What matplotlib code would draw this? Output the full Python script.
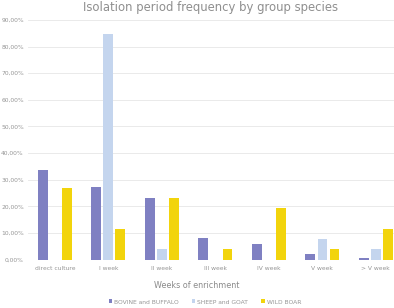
import matplotlib.pyplot as plt
import numpy as np

# categories and frequencies (fraction of isolates per species group)
weeks = ['direct culture', 'I week', 'II week', 'III week', 'IV week', 'V week', '> V week']
bovine = [0.337, 0.274, 0.232, 0.079, 0.058, 0.021, 0.005]
sheep = [0.0, 0.846, 0.038, 0.0, 0.0, 0.077, 0.038]
boar = [0.269, 0.115, 0.231, 0.038, 0.192, 0.038, 0.115]
series_names = ['BOVINE and BUFFALO', 'SHEEP and GOAT', 'WILD BOAR']
y_ticks = [0.0, 0.1, 0.2, 0.3, 0.4, 0.5, 0.6, 0.7, 0.8, 0.9]

colors = ['#7f80c2', '#c4d5ee', '#f2d40c']
txt = '#959595'

fig = plt.figure(figsize=(3.94, 3.08), dpi=100)
ax = fig.add_axes([28 / 394, 1 - 259.5 / 308, 374.6 / 394, (259.5 - 20) / 308])

x = np.arange(len(weeks))
w = 0.18
off = 0.225
for i, (vals, name) in enumerate(zip([bovine, sheep, boar], series_names)):
    ax.bar(x + (i - 1) * off, vals, width=w, color=colors[i], label=name, zorder=3)

ax.set_xlim(-0.5, 6.5)
ax.set_ylim(0, 0.9)
ax.set_yticks(y_ticks)
ax.set_yticklabels([f'{v * 100:.2f}%'.replace('.', ',') for v in y_ticks])
ax.set_xticks(x)
ax.set_xticklabels(weeks)
ax.tick_params(length=0, labelsize=4.3, colors=txt, pad=5)
ax.tick_params(axis='y', pad=3)
ax.grid(axis='y', color='#e6e6e6', linewidth=0.6, zorder=0)
for s in ax.spines.values():
    s.set_visible(False)
ax.axhline(0, color='#dcdcdc', linewidth=0.6, zorder=2)

fig.text(0.5, 1 - 285 / 308, 'Weeks of enrichment', ha='center', va='center',
         fontsize=5.8, color='#8a8a8a')
fig.text(0.535, 1 - 8 / 308, 'Isolation period frequency by group species', ha='center',
         va='center', fontsize=8.4, color='#8f8f8f')

fig.legend(loc='center', bbox_to_anchor=(0.52, 1 - 302 / 308), ncol=3, frameon=False,
           fontsize=4.3, labelcolor=txt, handlelength=0.6, handleheight=0.6,
           handletextpad=0.3, columnspacing=2.2)

fig.savefig('out.png', dpi=100)
